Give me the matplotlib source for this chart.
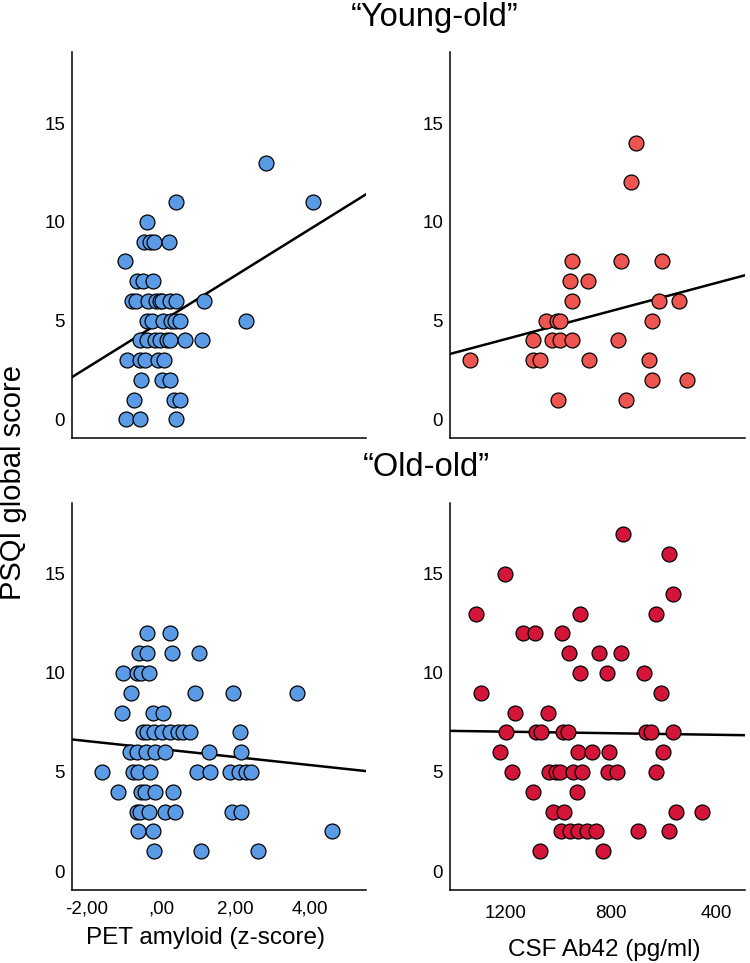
import numpy as np
import matplotlib
matplotlib.use("Agg")
import matplotlib.pyplot as plt

plt.rcParams['font.family'] = ['Liberation Sans', 'DejaVu Sans']

# "Young-old", PET amyloid (z-score) vs PSQI
yo_pet_x = [2.82,
            0.40, 4.08,
            -0.36,
            -0.44, -0.29, -0.18, 0.21,
            -0.95,
            -0.64, -0.49, -0.22,
            -0.78, -0.67, -0.34, -0.12, -0.02, 0.03, 0.24, 0.40, 1.15,
            -0.38, -0.25, 0.06, 0.28, 0.37, 0.52, 2.29,
            -0.56, -0.36, -0.16, -0.03, 0.17, 0.24, 0.64, 1.11,
            -0.92, -0.56, -0.43, -0.07, 0.08,
            -0.54, 0.02, 0.24,
            -0.72, 0.35, 0.52,
            -0.94, -0.56, 0.40]
yo_pet_y = [13,
            11, 11,
            10,
            9, 9, 9, 9,
            8,
            7, 7, 7,
            6, 6, 6, 6, 6, 6, 6, 6, 6,
            5, 5, 5, 5, 5, 5, 5,
            4, 4, 4, 4, 4, 4, 4, 4,
            3, 3, 3, 3, 3,
            2, 2, 2,
            1, 1, 1,
            0, 0, 0]

# "Young-old", CSF Ab42 (pg/ml) vs PSQI
yo_csf_x = [705, 724,
            951, 762, 608,
            957, 888,
            951, 619, 543,
            1048, 1008, 993, 644,
            1096, 1027, 993, 951, 774,
            1336, 1096, 1069, 884, 657,
            644, 513,
            1002, 743]
yo_csf_y = [14, 12,
            8, 8, 8,
            7, 7,
            6, 6, 6,
            5, 5, 5, 5,
            4, 4, 4, 4, 4,
            3, 3, 3, 3, 3,
            2, 2,
            1, 1]

# "Old-old", PET amyloid
oo_pet_x = [-0.36, 0.24,
            -0.59, -0.37, 0.31, 1.02,
            -1.01, -0.63, -0.52, -0.31,
            -0.81, 0.91, 1.93, 3.63,
            -1.04, -0.20, 0.06,
            -0.49, -0.37, -0.18, 0.02, 0.24, 0.46, 0.58, 0.77, 2.13,
            -0.83, -0.63, -0.40, -0.16, 0.12, 1.29, 2.15,
            -1.57, -0.76, -0.61, -0.28, 0.97, 1.32, 1.84, 2.09, 2.27, 2.42,
            -1.14, -0.52, -0.43, -0.16, 0.33,
            -0.65, -0.56, -0.31, 0.11, 0.37, 1.89, 2.15,
            -0.61, -0.22, 4.58,
            -0.18, 1.06, 2.59]
oo_pet_y = [12, 12,
            11, 11, 11, 11,
            10, 10, 10, 10,
            9, 9, 9, 9,
            8, 8, 8,
            7, 7, 7, 7, 7, 7, 7, 7, 7,
            6, 6, 6, 6, 6, 6, 6,
            5, 5, 5, 5, 5, 5, 5, 5, 5, 5,
            4, 4, 4, 4, 4,
            3, 3, 3, 3, 3, 3, 3,
            2, 2, 2,
            1, 1, 1]

# "Old-old", CSF Ab42
oo_csf_x = [755, 581, 1204, 568,
            1314, 920, 631,
            1134, 1090, 987,
            960, 846, 762,
            920, 816, 677,
            1296, 610,
            1166, 1040,
            1200, 1084, 1065, 983, 964, 667, 648, 568,
            1223, 928, 875, 808, 604,
            1175, 1037, 1010, 993, 945, 913, 812, 778, 631,
            1096, 932,
            1023, 979, 556, 458,
            992, 955, 926, 892, 859, 699, 581,
            1071, 831]
oo_csf_y = [17, 16, 15, 14,
            13, 13, 13,
            12, 12, 12,
            11, 11, 11,
            10, 10, 10,
            9, 9,
            8, 8,
            7, 7, 7, 7, 7, 7, 7, 7,
            6, 6, 6, 6, 6,
            5, 5, 5, 5, 5, 5, 5, 5, 5,
            4, 4,
            3, 3, 3, 3,
            2, 2, 2, 2, 2, 2, 2,
            1, 1]

# fit lines: (intercept, slope)
yo_pet_fit = (4.94, 1.176)
yo_csf_fit = (8.34, -0.00356)
oo_pet_fit = (6.16, -0.203)
oo_csf_fit = (6.80, 0.000197)

pet_ticks = [-2, 0, 2, 4]
pet_ticklabels = ["-2,00", ",00", "2,00", "4,00"]
csf_ticks = [1200, 800, 400]
y_ticks = [0, 5, 10, 15]

blue = "#5b9be6"
red_light = "#ee5550"
red_dark = "#d5143a"

pet_lim = (-2.38, 5.49)
csf_lim = (1412, 294)
y_lim = (-0.95, 18.6)

fig = plt.figure(figsize=(7.5, 9.63), dpi=100)
ax_tl = fig.add_axes([0.096, 0.545, 0.392, 0.401])
ax_tr = fig.add_axes([0.600, 0.545, 0.393, 0.401])
ax_bl = fig.add_axes([0.096, 0.076, 0.392, 0.402])
ax_br = fig.add_axes([0.600, 0.076, 0.393, 0.402])

panels = [
    (ax_tl, yo_pet_x, yo_pet_y, yo_pet_fit, blue, pet_lim),
    (ax_tr, yo_csf_x, yo_csf_y, yo_csf_fit, red_light, csf_lim),
    (ax_bl, oo_pet_x, oo_pet_y, oo_pet_fit, blue, pet_lim),
    (ax_br, oo_csf_x, oo_csf_y, oo_csf_fit, red_dark, csf_lim),
]

for ax, x, y, fit, col, xlim in panels:
    a, b = fit
    xs = np.array(xlim, dtype=float)
    ax.plot(xs, a + b * xs, color="black", lw=1.8, zorder=2)
    ax.scatter(x, y, s=115, c=col, edgecolors="black", linewidths=0.9, zorder=3)
    ax.set_xlim(xlim)
    ax.set_ylim(y_lim)
    ax.set_yticks(y_ticks)
    for side in ["top", "right"]:
        ax.spines[side].set_visible(False)
    ax.spines["left"].set_linewidth(1.1)
    ax.spines["bottom"].set_linewidth(1.1)
    ax.tick_params(axis="both", length=0, labelsize=13.5)
    ax.tick_params(axis="y", pad=5)

ax_tl.set_xticks([])
ax_tr.set_xticks([])
ax_bl.set_xticks(pet_ticks)
ax_bl.set_xticklabels(pet_ticklabels)
ax_bl.tick_params(axis="x", pad=8)
ax_br.set_xticks(csf_ticks)
ax_br.set_xticklabels([str(t) for t in csf_ticks])
ax_br.tick_params(axis="x", pad=11)

fig.text(0.58, 0.982, "\u201cYoung-old\u201d", fontsize=23.5, ha="center", va="center")
fig.text(0.569, 0.515, "\u201cOld-old\u201d", fontsize=23.5, ha="center", va="center")
fig.text(0.018, 0.499, "PSQI global score", fontsize=21, rotation=90, ha="center", va="center")
fig.text(0.274, 0.026, "PET amyloid (z-score)", fontsize=17.5, ha="center", va="center")
fig.text(0.805, 0.013, "CSF Ab42 (pg/ml)", fontsize=17.5, ha="center", va="center")

fig.savefig("out.png", dpi=100)
